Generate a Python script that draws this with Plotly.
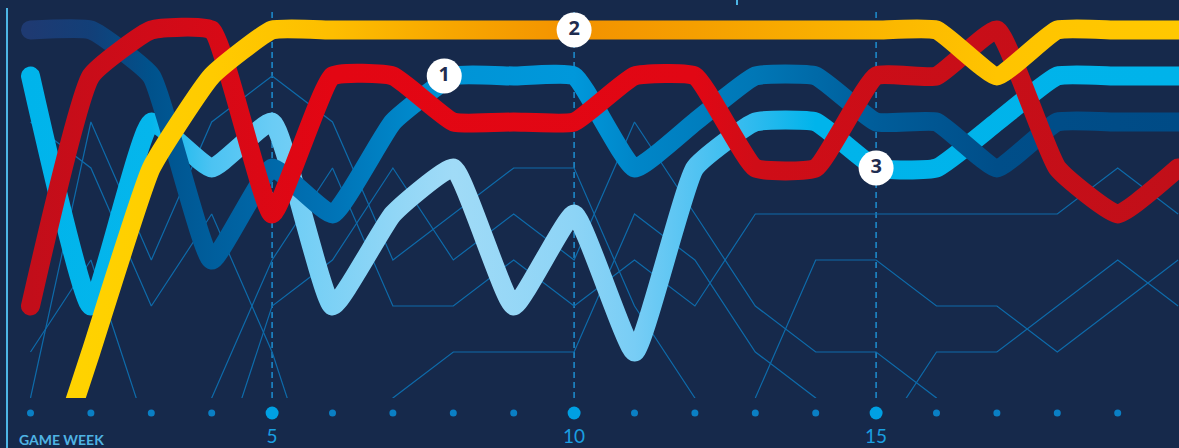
import json
import plotly.graph_objects as go

# ---------------- data ----------------
weeks = list(range(1, 21))

# highlighted teams (league position per game week)
team_yellow = [12, 8, 4, 2, 1, 1, 1, 1, 1, 1, 1, 1, 1, 1, 1, 1, 2, 1, 1, 1]
team_red = [7, 2, 1, 1, 5, 2, 2, 3, 3, 3, 2, 2, 4, 4, 2, 2, 1, 4, 5, 4]
team_cyan = [2, 7, 3, 4, 3, 7, 5, 4, 7, 5, 8, 4, 3, 3, 4, 4, 3, 2, 2, 2]
team_blue = [1, 1, 2, 6, 4, 5, 3, 2, 2, 2, 4, 3, 2, 2, 3, 3, 4, 3, 3, 3]

# other teams (thin lines)
team_a = [3, 4, 7, 5, 8, 12, 12, 12, 12, 12, 12, 12, 12, 12, 12, 12, 12, 12, 12, 12]
team_b = [9, 3, 6, 3, 2, 3, 6, 5, 4, 4, 7, 9, 11, 12, 12, 12, 12, 12, 12, 12]
team_c = [8, 6, 10, 11, 12, 12, 12, 12, 12, 12, 12, 12, 12, 12, 12, 12, 12, 12, 12, 12]
team_d = [11, 11, 10, 9, 6, 4, 7, 7, 6, 7, 6, 7, 5, 5, 5, 5, 5, 5, 4, 5]
team_e = [12, 12, 12, 11, 7, 6, 4, 6, 5, 6, 3, 5, 7, 8, 8, 9, 11, 12, 12, 12]
team_f = [12, 12, 12, 12, 12, 11, 9, 8, 8, 8, 5, 6, 8, 9, 11, 12, 12, 12, 12, 12]
team_g = [12, 12, 12, 12, 12, 12, 12, 12, 12, 12, 12, 11, 9, 6, 6, 7, 7, 8, 7, 6]
team_h = [12, 12, 12, 12, 12, 12, 12, 12, 12, 12, 12, 12, 12, 12, 10, 8, 8, 7, 6, 7]

# numbered callouts: (week, position, label)
callout_weeks = [7.85, 10, 15]
callout_pos = [2, 1, 4]
callout_text = ["1", "2", "3"]

major_weeks = [5, 10, 15]
major_labels = ["5", "10", "15"]

# ---------------- style ----------------
BG = "#16294B"
THIN = "#0E6BAA"
W, H = 1179, 448
PX_WEEK = 60.4
X0 = 1 - 30.5 / PX_WEEK
X1 = X0 + W / PX_WEEK
PX_RANK = 46.0
LINES_BOTTOM_PX = 398
Y_BOTTOM = 1 + (LINES_BOTTOM_PX - 30) / PX_RANK
Y_TOP = Y_BOTTOM - LINES_BOTTOM_PX / PX_RANK
DOMAIN_SPLIT = (H - LINES_BOTTOM_PX) / H

# gradient stops along each highlighted line: (week, colour)
grad_yellow = [(1, "#FFD500"), (4, "#FFCB00"), (6, "#FDBE00"), (8, "#F7A600"),
               (10, "#F39200"), (12, "#F59F00"), (15, "#FBB600"), (17, "#FFC400"), (20, "#FFC800")]
grad_red = [(1, "#C20E1A"), (3, "#D00B18"), (6, "#E30613"), (12, "#E10714"),
            (13, "#CF0D17"), (20, "#C10F19")]
grad_cyan = [(1, "#00B4EB"), (3, "#05B6EC"), (4, "#4CC3F2"), (5, "#6ACCF5"), (7, "#90D6F6"),
             (8, "#A0DBF7"), (10, "#8DD4F6"), (11, "#78CDF5"), (12, "#52C3F2"),
             (13, "#2DBAEE"), (14, "#00B4EB"), (20, "#00B3EA")]
grad_blue = [(1, "#1E3A72"), (2, "#123F78"), (3, "#00528C"), (4, "#005E9C"), (6, "#0073B6"),
             (8, "#0094D6"), (10, "#0098DB"), (11, "#0086C8"), (13, "#0077B6"),
             (15, "#005D9A"), (17, "#004E89"), (20, "#004B86")]

fig = go.Figure()

# thin lines
for name, vals in [("a", team_a), ("b", team_b), ("c", team_c), ("d", team_d),
                   ("e", team_e), ("f", team_f), ("g", team_g), ("h", team_h)]:
    fig.add_trace(go.Scatter(x=weeks, y=vals, mode="lines", name=name,
                             line=dict(color=THIN, width=1.2, shape="linear"),
                             hoverinfo="skip", showlegend=False))

# thick highlighted lines
thick = [("cyan", team_cyan, "#00B4EB", grad_cyan),
         ("blue", team_blue, "#0077B6", grad_blue),
         ("red", team_red, "#E30613", grad_red),
         ("yellow", team_yellow, "#FFC800", grad_yellow)]
grad_info = {}
for name, vals, col, grad in thick:
    uid = "thick" + name
    fig.add_trace(go.Scatter(x=weeks, y=vals, mode="lines", name=name, uid=uid,
                             line=dict(color=col, width=19, shape="spline", smoothing=0.4),
                             hoverinfo="skip", showlegend=False))
    grad_info[uid] = [[(w - 1) / 19.0, c] for w, c in grad]

# callouts
fig.add_trace(go.Scatter(x=callout_weeks, y=callout_pos, mode="markers+text",
                         text=["<b>%s</b>" % t for t in callout_text], textposition="middle center",
                         marker=dict(size=35, color="white", line=dict(width=0)),
                         textfont=dict(family="Open Sans", size=20, color="#1F2D50"),
                         hoverinfo="skip", showlegend=False, cliponaxis=False))

# week dots & labels (bottom strip)
minor = [w for w in weeks if w not in major_weeks and w <= 19]
fig.add_trace(go.Scatter(x=minor, y=[35] * len(minor), mode="markers", yaxis="y2",
                         marker=dict(size=7, color="#0A7FC4"), hoverinfo="skip", showlegend=False))
fig.add_trace(go.Scatter(x=major_weeks, y=[35] * len(major_weeks), mode="markers", yaxis="y2",
                         marker=dict(size=13, color="#00A0E3"), hoverinfo="skip", showlegend=False))
fig.add_trace(go.Scatter(x=major_weeks, y=[10] * len(major_weeks), mode="text", yaxis="y2",
                         text=major_labels, textposition="middle center",
                         textfont=dict(family="Lato", size=19, color="#1A9FE0"),
                         hoverinfo="skip", showlegend=False, cliponaxis=False))

# dashed week markers (within the line area only)
dash_top = Y_TOP + 12 / PX_RANK
shapes = [
    dict(type="line", xref="paper", yref="paper", x0=7 / W, x1=7 / W, y0=0, y1=1 - 8 / H,
         line=dict(color="#4DB6E6", width=2)),
    dict(type="line", xref="paper", yref="paper", x0=737 / W, x1=737 / W, y0=1 - 5 / H, y1=1,
         line=dict(color="#4DB6E6", width=2)),
]
for wk in major_weeks:
    shapes.append(dict(type="line", xref="x", yref="y", x0=wk, x1=wk, y0=dash_top, y1=Y_BOTTOM,
                       line=dict(color="#1E8ED0", width=1.5, dash="6px,4px"), layer="below"))

fig.update_layout(
    width=W, height=H,
    margin=dict(l=0, r=0, t=0, b=0),
    paper_bgcolor=BG, plot_bgcolor=BG,
    xaxis=dict(range=[X0, X1], showgrid=False, showticklabels=False,
               zeroline=False, showline=False, ticks=""),
    yaxis=dict(range=[Y_BOTTOM, Y_TOP], domain=[DOMAIN_SPLIT, 1], visible=False,
               showgrid=False, zeroline=False),
    yaxis2=dict(range=[0, H - LINES_BOTTOM_PX], domain=[0, DOMAIN_SPLIT], visible=False,
                showgrid=False, zeroline=False, anchor="x"),
    shapes=shapes,
    annotations=[
        dict(text="<b>GAME WEEK</b>", xref="paper", yref="paper", x=17 / W, y=(H - 439) / H,
             xanchor="left", yanchor="middle", showarrow=False,
             font=dict(family="Lato", size=14, color="#4FB3E3")),
    ],
)

post = """
var gd = document.getElementById('{plot_id}');
var G = %s;
var NS = 'http://www.w3.org/2000/svg';
var svg = gd.querySelector('svg.main-svg');
var defs = svg.querySelector('defs');
if (!defs) { defs = document.createElementNS(NS, 'defs'); svg.insertBefore(defs, svg.firstChild); }
Object.keys(G).forEach(function(uid){
  var lg = document.createElementNS(NS, 'linearGradient');
  lg.setAttribute('id', 'g_' + uid);
  lg.setAttribute('x1', '0'); lg.setAttribute('x2', '1');
  lg.setAttribute('y1', '0'); lg.setAttribute('y2', '0');
  G[uid].forEach(function(s){
    var st = document.createElementNS(NS, 'stop');
    st.setAttribute('offset', s[0]); st.setAttribute('stop-color', s[1]);
    lg.appendChild(st);
  });
  defs.appendChild(lg);
});
gd.querySelectorAll('.scatterlayer .trace').forEach(function(el){
  var d = el.__data__; var tr = d && d[0] && d[0].trace;
  if (!tr || !G[tr.uid]) return;
  var p = el.querySelector('path.js-line');
  if (!p) return;
  p.style.stroke = 'url(#g_' + tr.uid + ')';
  p.style.strokeLinecap = 'round';
  p.style.strokeLinejoin = 'round';
});
""" % json.dumps(grad_info)

fig.write_html("out.html", config={"displayModeBar": False, "staticPlot": True}, post_script=post)
